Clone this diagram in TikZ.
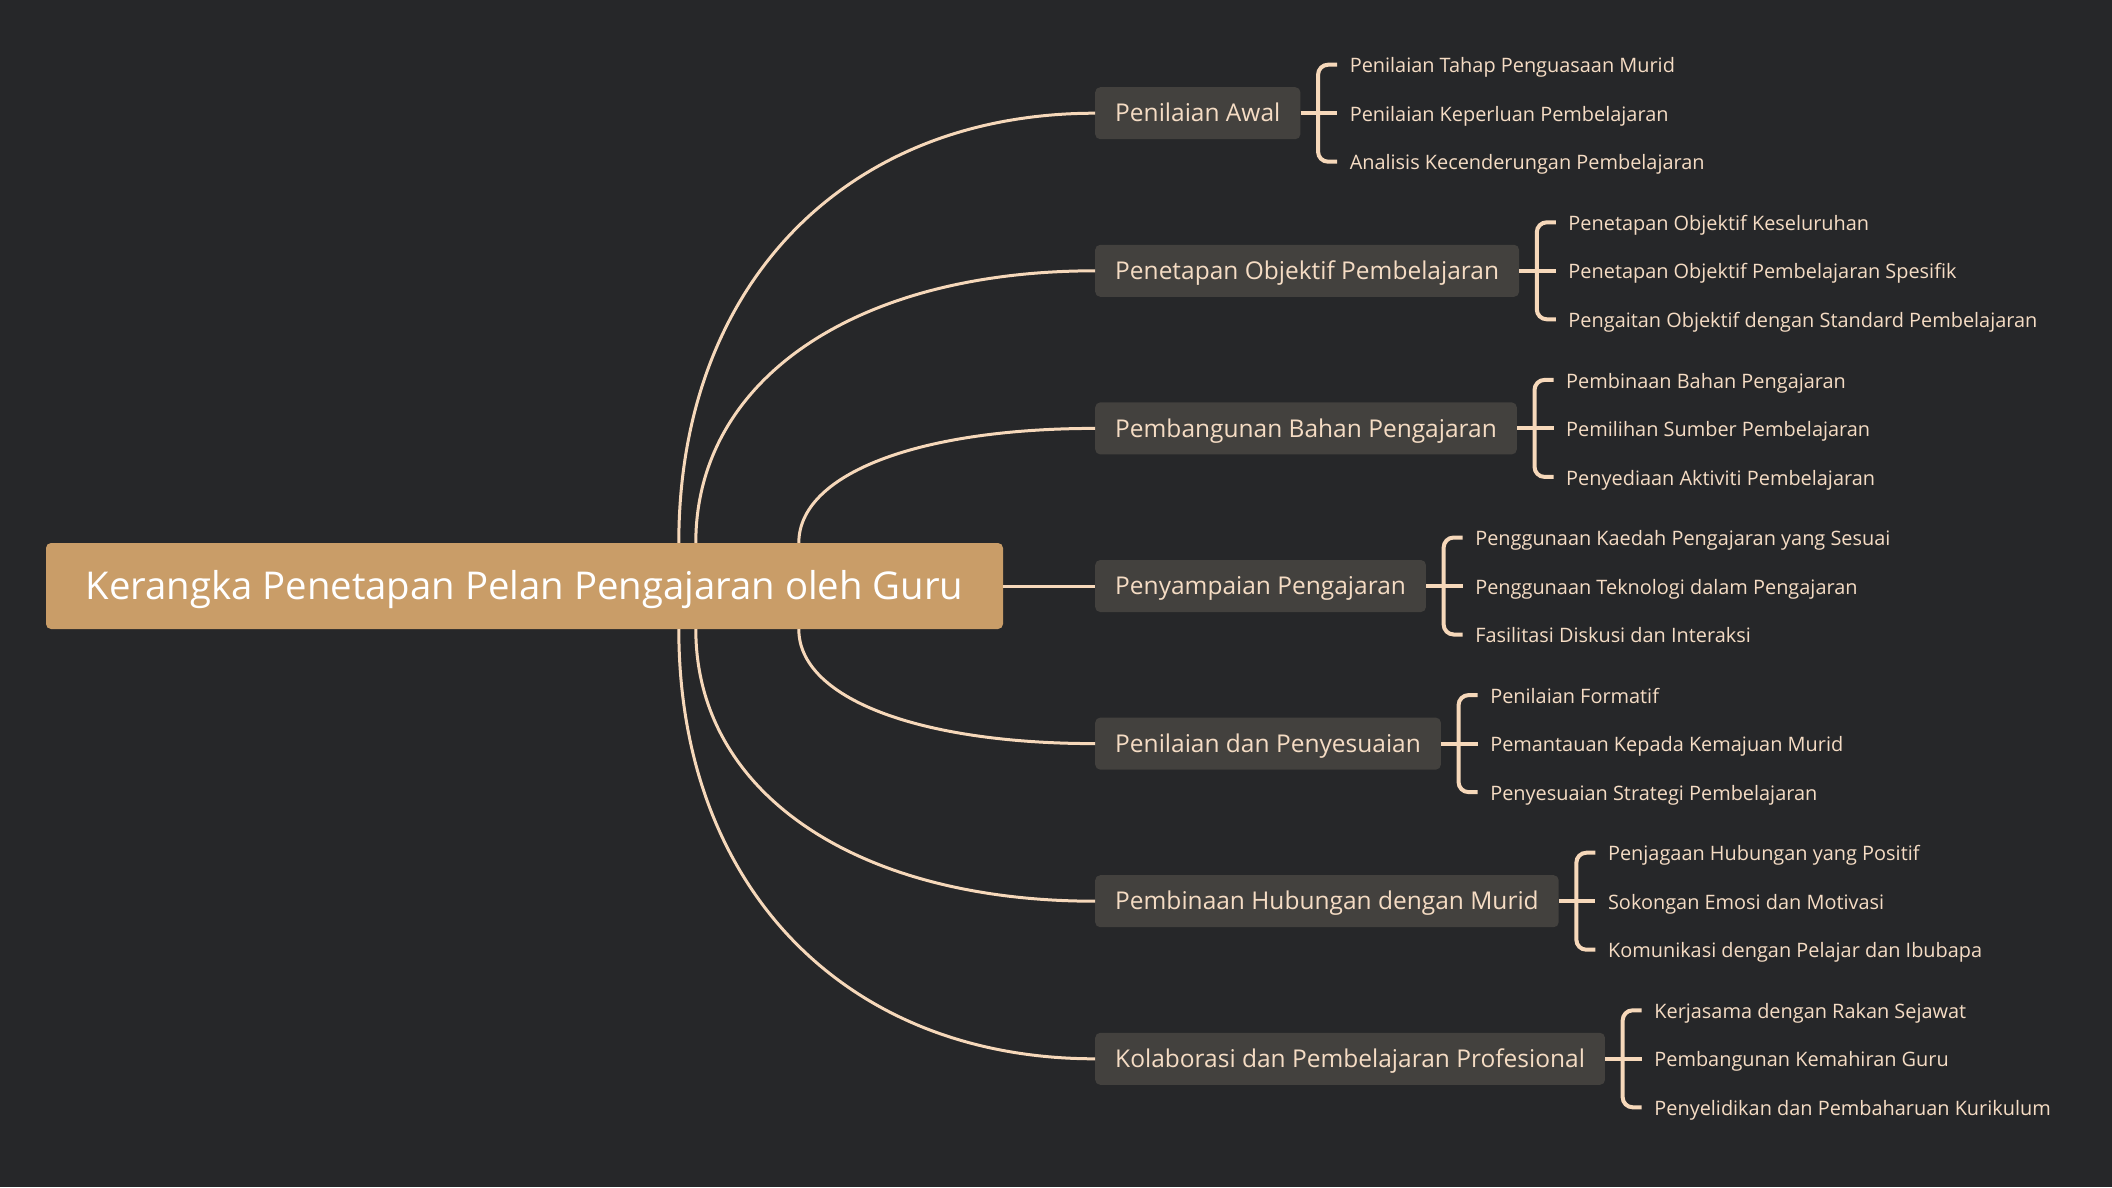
\documentclass[tikz,border=0pt]{standalone}
\usepackage{fontspec}
\setmainfont{Open Sans}
\usetikzlibrary{calc}
\definecolor{bgc}{RGB}{38,39,41}
\definecolor{rootc}{RGB}{201,157,104}
\definecolor{brc}{RGB}{67,65,62}
\definecolor{linec}{RGB}{246,216,186}
\definecolor{txtc}{RGB}{245,220,196}
\tikzset{
  rootnode/.style={fill=rootc, rounded corners=5pt, minimum width=957pt, minimum height=86pt, inner sep=0pt,
    text height=27pt, text depth=0pt, text=white, font=\fontsize{38.3}{44}\selectfont},
  branchnode/.style={fill=brc, rounded corners=5pt, anchor=west, minimum height=52pt, inner xsep=20pt, inner ysep=0pt,
    text height=17.5pt, text depth=0pt, text=txtc, font=\fontsize{24.5}{28}\selectfont},
  leafnode/.style={anchor=west, inner sep=0pt, text height=14.2pt, text depth=0pt,
    text=txtc, font=\fontsize{19.9}{23}\selectfont},
  conn/.style={draw=linec, line width=3pt},
  brk/.style={draw=linec, line width=4pt},
}
\newcommand\leafgroup[4]{%
  \node[leafnode] (#1a) at ($(#1.east)+(49,-47.5)$) {#2};
  \node[leafnode] (#1b) at ($(#1.east)+(49,1)$) {#3};
  \node[leafnode] (#1c) at ($(#1.east)+(49,49.5)$) {#4};
  \draw[brk] (#1.east) -- ($(#1b.west)+(-12.5,-1)$);
  \draw[brk, rounded corners=10pt] ($(#1a.west)+(-12.5,-1)$) -- ($(#1.east)+(17.5,-48.5)$) -- ($(#1.east)+(17.5,48.5)$) -- ($(#1c.west)+(-12.5,-1)$);
}
\newcommand\curveto[2]{%
  \draw[conn] (#1) .. controls ($(#1)!0.6!(#1|-#2.west)$) and ($(#2.west)!0.6!(#1|-#2.west)$) .. (#2.west);
}
\begin{document}
\begin{tikzpicture}[x=1pt,y=-1pt]
\fill[bgc] (0,0) rectangle (2112,1187);
\useasboundingbox (0,0) rectangle (2112,1187);

\node[rootnode] (root) at (524.5,586) {Kerangka Penetapan Pelan Pengajaran oleh Guru};

\node[branchnode] (b1) at (1095,113.2) {Penilaian Awal};
\node[branchnode] (b2) at (1095,270.8) {Penetapan Objektif Pembelajaran};
\node[branchnode] (b3) at (1095,428.4) {Pembangunan Bahan Pengajaran};
\node[branchnode] (b4) at (1095,586) {Penyampaian Pengajaran};
\node[branchnode] (b5) at (1095,743.6) {Penilaian dan Penyesuaian};
\node[branchnode] (b6) at (1095,901.2) {Pembinaan Hubungan dengan Murid};
\node[branchnode] (b7) at (1095,1058.8) {Kolaborasi dan Pembelajaran Profesional};

\coordinate (s1) at ($(root.north west)+(633,0)$);
\coordinate (s2) at ($(root.north west)+(650,0)$);
\coordinate (s3) at ($(root.north west)+(753,0)$);
\coordinate (s5) at ($(root.south west)+(753,0)$);
\coordinate (s6) at ($(root.south west)+(650,0)$);
\coordinate (s7) at ($(root.south west)+(633,0)$);

\curveto{s1}{b1}
\curveto{s2}{b2}
\curveto{s3}{b3}
\draw[conn] (root.east) -- (b4.west);
\curveto{s5}{b5}
\curveto{s6}{b6}
\curveto{s7}{b7}

\leafgroup{b1}{Penilaian Tahap Penguasaan Murid}{Penilaian Keperluan Pembelajaran}{Analisis Kecenderungan Pembelajaran}
\leafgroup{b2}{Penetapan Objektif Keseluruhan}{Penetapan Objektif Pembelajaran Spesifik}{Pengaitan Objektif dengan Standard Pembelajaran}
\leafgroup{b3}{Pembinaan Bahan Pengajaran}{Pemilihan Sumber Pembelajaran}{Penyediaan Aktiviti Pembelajaran}
\leafgroup{b4}{Penggunaan Kaedah Pengajaran yang Sesuai}{Penggunaan Teknologi dalam Pengajaran}{Fasilitasi Diskusi dan Interaksi}
\leafgroup{b5}{Penilaian Formatif}{Pemantauan Kepada Kemajuan Murid}{Penyesuaian Strategi Pembelajaran}
\leafgroup{b6}{Penjagaan Hubungan yang Positif}{Sokongan Emosi dan Motivasi}{Komunikasi dengan Pelajar dan Ibubapa}
\leafgroup{b7}{Kerjasama dengan Rakan Sejawat}{Pembangunan Kemahiran Guru}{Penyelidikan dan Pembaharuan Kurikulum}
\end{tikzpicture}
\end{document}
